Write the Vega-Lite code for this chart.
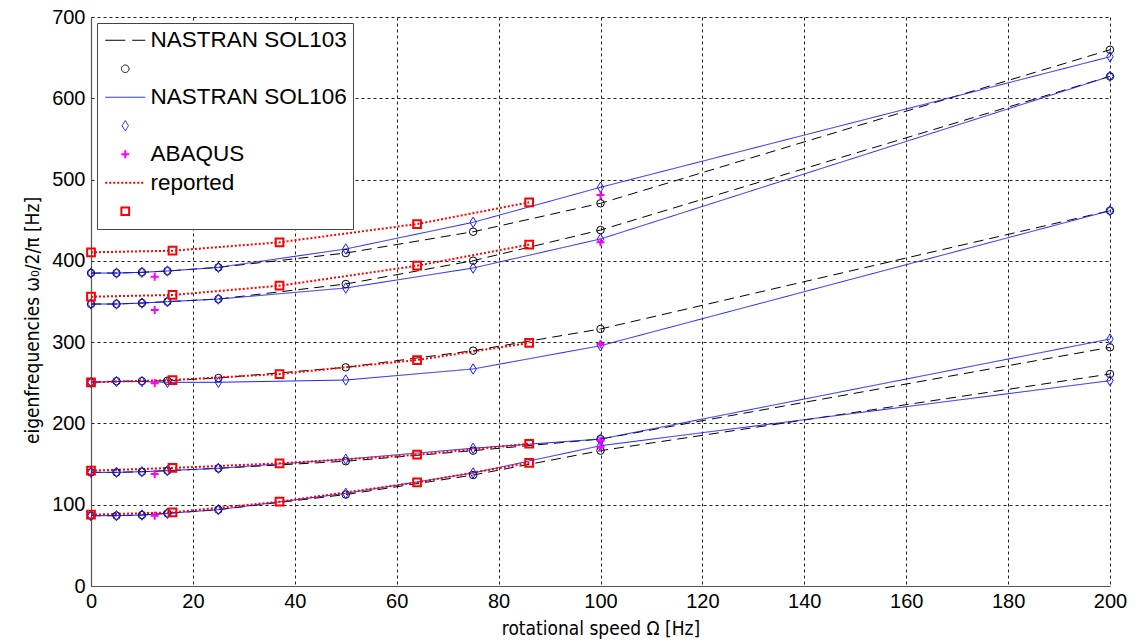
{
  "$schema": "https://vega.github.io/schema/vega-lite/v6.json",
  "width": 1019,
  "height": 569,
  "autosize": {"type": "none"},
  "padding": {"left": 91, "top": 17, "right": 28, "bottom": 55},
  "background": "white",
  "config": {
    "view": {"stroke": null},
    "font": "Liberation Sans",
    "legend": {"strokeColor": "#444", "fillColor": "white", "padding": 6, "cornerRadius": 0}
  },
  "datasets": {
    "freqs": [
      {"src":"NASTRAN SOL103","mk":"SOL103 markers","mode":1,"speed":0,"freq":86.5},
      {"src":"NASTRAN SOL103","mk":"SOL103 markers","mode":1,"speed":5,"freq":86.5},
      {"src":"NASTRAN SOL103","mk":"SOL103 markers","mode":1,"speed":10,"freq":87.3},
      {"src":"NASTRAN SOL103","mk":"SOL103 markers","mode":1,"speed":15,"freq":89.4},
      {"src":"NASTRAN SOL103","mk":"SOL103 markers","mode":1,"speed":25,"freq":93.9},
      {"src":"NASTRAN SOL103","mk":"SOL103 markers","mode":1,"speed":50,"freq":112.5},
      {"src":"NASTRAN SOL103","mk":"SOL103 markers","mode":1,"speed":75,"freq":136.5},
      {"src":"NASTRAN SOL103","mk":"SOL103 markers","mode":1,"speed":100,"freq":166.5},
      {"src":"NASTRAN SOL103","mk":"SOL103 markers","mode":1,"speed":200,"freq":260.8},
      {"src":"NASTRAN SOL103","mk":"SOL103 markers","mode":2,"speed":0,"freq":139.8},
      {"src":"NASTRAN SOL103","mk":"SOL103 markers","mode":2,"speed":5,"freq":139.8},
      {"src":"NASTRAN SOL103","mk":"SOL103 markers","mode":2,"speed":10,"freq":140.6},
      {"src":"NASTRAN SOL103","mk":"SOL103 markers","mode":2,"speed":15,"freq":141.9},
      {"src":"NASTRAN SOL103","mk":"SOL103 markers","mode":2,"speed":25,"freq":144.8},
      {"src":"NASTRAN SOL103","mk":"SOL103 markers","mode":2,"speed":50,"freq":153.5},
      {"src":"NASTRAN SOL103","mk":"SOL103 markers","mode":2,"speed":75,"freq":166.5},
      {"src":"NASTRAN SOL103","mk":"SOL103 markers","mode":2,"speed":100,"freq":180.8},
      {"src":"NASTRAN SOL103","mk":"SOL103 markers","mode":2,"speed":200,"freq":293.6},
      {"src":"NASTRAN SOL103","mk":"SOL103 markers","mode":3,"speed":0,"freq":250.6},
      {"src":"NASTRAN SOL103","mk":"SOL103 markers","mode":3,"speed":5,"freq":252},
      {"src":"NASTRAN SOL103","mk":"SOL103 markers","mode":3,"speed":10,"freq":252},
      {"src":"NASTRAN SOL103","mk":"SOL103 markers","mode":3,"speed":15,"freq":252.5},
      {"src":"NASTRAN SOL103","mk":"SOL103 markers","mode":3,"speed":25,"freq":255.9},
      {"src":"NASTRAN SOL103","mk":"SOL103 markers","mode":3,"speed":50,"freq":269},
      {"src":"NASTRAN SOL103","mk":"SOL103 markers","mode":3,"speed":75,"freq":289.5},
      {"src":"NASTRAN SOL103","mk":"SOL103 markers","mode":3,"speed":100,"freq":316.2},
      {"src":"NASTRAN SOL103","mk":"SOL103 markers","mode":3,"speed":200,"freq":461.7},
      {"src":"NASTRAN SOL103","mk":"SOL103 markers","mode":4,"speed":0,"freq":346.9},
      {"src":"NASTRAN SOL103","mk":"SOL103 markers","mode":4,"speed":5,"freq":346.9},
      {"src":"NASTRAN SOL103","mk":"SOL103 markers","mode":4,"speed":10,"freq":348.1},
      {"src":"NASTRAN SOL103","mk":"SOL103 markers","mode":4,"speed":15,"freq":349.8},
      {"src":"NASTRAN SOL103","mk":"SOL103 markers","mode":4,"speed":25,"freq":353},
      {"src":"NASTRAN SOL103","mk":"SOL103 markers","mode":4,"speed":50,"freq":371.5},
      {"src":"NASTRAN SOL103","mk":"SOL103 markers","mode":4,"speed":75,"freq":400.2},
      {"src":"NASTRAN SOL103","mk":"SOL103 markers","mode":4,"speed":100,"freq":437.9},
      {"src":"NASTRAN SOL103","mk":"SOL103 markers","mode":4,"speed":200,"freq":627},
      {"src":"NASTRAN SOL103","mk":"SOL103 markers","mode":5,"speed":0,"freq":385},
      {"src":"NASTRAN SOL103","mk":"SOL103 markers","mode":5,"speed":5,"freq":385},
      {"src":"NASTRAN SOL103","mk":"SOL103 markers","mode":5,"speed":10,"freq":385.9},
      {"src":"NASTRAN SOL103","mk":"SOL103 markers","mode":5,"speed":15,"freq":387.5},
      {"src":"NASTRAN SOL103","mk":"SOL103 markers","mode":5,"speed":25,"freq":392},
      {"src":"NASTRAN SOL103","mk":"SOL103 markers","mode":5,"speed":50,"freq":409.6},
      {"src":"NASTRAN SOL103","mk":"SOL103 markers","mode":5,"speed":75,"freq":435.8},
      {"src":"NASTRAN SOL103","mk":"SOL103 markers","mode":5,"speed":100,"freq":470.8},
      {"src":"NASTRAN SOL103","mk":"SOL103 markers","mode":5,"speed":200,"freq":659.7},
      {"src":"NASTRAN SOL106","mk":"SOL106 markers","mode":1,"speed":0,"freq":86.5},
      {"src":"NASTRAN SOL106","mk":"SOL106 markers","mode":1,"speed":5,"freq":86.5},
      {"src":"NASTRAN SOL106","mk":"SOL106 markers","mode":1,"speed":10,"freq":87.3},
      {"src":"NASTRAN SOL106","mk":"SOL106 markers","mode":1,"speed":15,"freq":89.4},
      {"src":"NASTRAN SOL106","mk":"SOL106 markers","mode":1,"speed":25,"freq":93.9},
      {"src":"NASTRAN SOL106","mk":"SOL106 markers","mode":1,"speed":50,"freq":114},
      {"src":"NASTRAN SOL106","mk":"SOL106 markers","mode":1,"speed":75,"freq":139},
      {"src":"NASTRAN SOL106","mk":"SOL106 markers","mode":1,"speed":100,"freq":172.6},
      {"src":"NASTRAN SOL106","mk":"SOL106 markers","mode":1,"speed":200,"freq":252.6},
      {"src":"NASTRAN SOL106","mk":"SOL106 markers","mode":2,"speed":0,"freq":139.8},
      {"src":"NASTRAN SOL106","mk":"SOL106 markers","mode":2,"speed":5,"freq":139.8},
      {"src":"NASTRAN SOL106","mk":"SOL106 markers","mode":2,"speed":10,"freq":140.6},
      {"src":"NASTRAN SOL106","mk":"SOL106 markers","mode":2,"speed":15,"freq":141.9},
      {"src":"NASTRAN SOL106","mk":"SOL106 markers","mode":2,"speed":25,"freq":144.8},
      {"src":"NASTRAN SOL106","mk":"SOL106 markers","mode":2,"speed":50,"freq":156},
      {"src":"NASTRAN SOL106","mk":"SOL106 markers","mode":2,"speed":75,"freq":169.5},
      {"src":"NASTRAN SOL106","mk":"SOL106 markers","mode":2,"speed":100,"freq":180.8},
      {"src":"NASTRAN SOL106","mk":"SOL106 markers","mode":2,"speed":200,"freq":303.8},
      {"src":"NASTRAN SOL106","mk":"SOL106 markers","mode":3,"speed":0,"freq":250.6},
      {"src":"NASTRAN SOL106","mk":"SOL106 markers","mode":3,"speed":5,"freq":251.5},
      {"src":"NASTRAN SOL106","mk":"SOL106 markers","mode":3,"speed":10,"freq":251.5},
      {"src":"NASTRAN SOL106","mk":"SOL106 markers","mode":3,"speed":15,"freq":250.6},
      {"src":"NASTRAN SOL106","mk":"SOL106 markers","mode":3,"speed":25,"freq":250.6},
      {"src":"NASTRAN SOL106","mk":"SOL106 markers","mode":3,"speed":50,"freq":253.4},
      {"src":"NASTRAN SOL106","mk":"SOL106 markers","mode":3,"speed":75,"freq":267},
      {"src":"NASTRAN SOL106","mk":"SOL106 markers","mode":3,"speed":100,"freq":295.6},
      {"src":"NASTRAN SOL106","mk":"SOL106 markers","mode":3,"speed":200,"freq":461.7},
      {"src":"NASTRAN SOL106","mk":"SOL106 markers","mode":4,"speed":0,"freq":346.9},
      {"src":"NASTRAN SOL106","mk":"SOL106 markers","mode":4,"speed":5,"freq":346.9},
      {"src":"NASTRAN SOL106","mk":"SOL106 markers","mode":4,"speed":10,"freq":348.1},
      {"src":"NASTRAN SOL106","mk":"SOL106 markers","mode":4,"speed":15,"freq":349.8},
      {"src":"NASTRAN SOL106","mk":"SOL106 markers","mode":4,"speed":25,"freq":353},
      {"src":"NASTRAN SOL106","mk":"SOL106 markers","mode":4,"speed":50,"freq":366.6},
      {"src":"NASTRAN SOL106","mk":"SOL106 markers","mode":4,"speed":75,"freq":391.2},
      {"src":"NASTRAN SOL106","mk":"SOL106 markers","mode":4,"speed":100,"freq":426.9},
      {"src":"NASTRAN SOL106","mk":"SOL106 markers","mode":4,"speed":200,"freq":627},
      {"src":"NASTRAN SOL106","mk":"SOL106 markers","mode":5,"speed":0,"freq":385},
      {"src":"NASTRAN SOL106","mk":"SOL106 markers","mode":5,"speed":5,"freq":385},
      {"src":"NASTRAN SOL106","mk":"SOL106 markers","mode":5,"speed":10,"freq":385.9},
      {"src":"NASTRAN SOL106","mk":"SOL106 markers","mode":5,"speed":15,"freq":387.5},
      {"src":"NASTRAN SOL106","mk":"SOL106 markers","mode":5,"speed":25,"freq":392},
      {"src":"NASTRAN SOL106","mk":"SOL106 markers","mode":5,"speed":50,"freq":414.6},
      {"src":"NASTRAN SOL106","mk":"SOL106 markers","mode":5,"speed":75,"freq":447.4},
      {"src":"NASTRAN SOL106","mk":"SOL106 markers","mode":5,"speed":100,"freq":490.5},
      {"src":"NASTRAN SOL106","mk":"SOL106 markers","mode":5,"speed":200,"freq":651.1},
      {"src":"ABAQUS","mk":"ABAQUS","mode":1,"speed":12.5,"freq":86.5},
      {"src":"ABAQUS","mk":"ABAQUS","mode":2,"speed":12.5,"freq":137.8},
      {"src":"ABAQUS","mk":"ABAQUS","mode":3,"speed":12.5,"freq":249.3},
      {"src":"ABAQUS","mk":"ABAQUS","mode":4,"speed":12.5,"freq":339.5},
      {"src":"ABAQUS","mk":"ABAQUS","mode":5,"speed":12.5,"freq":380.5},
      {"src":"ABAQUS","mk":"ABAQUS","mode":1,"speed":100,"freq":170.6},
      {"src":"ABAQUS","mk":"ABAQUS","mode":2,"speed":100,"freq":178.8},
      {"src":"ABAQUS","mk":"ABAQUS","mode":3,"speed":100,"freq":297.7},
      {"src":"ABAQUS","mk":"ABAQUS","mode":4,"speed":100,"freq":422.8},
      {"src":"ABAQUS","mk":"ABAQUS","mode":5,"speed":100,"freq":481},
      {"src":"reported","mk":"reported markers","mode":1,"speed":0,"freq":87.7},
      {"src":"reported","mk":"reported markers","mode":1,"speed":16,"freq":90.6},
      {"src":"reported","mk":"reported markers","mode":1,"speed":37,"freq":103.7},
      {"src":"reported","mk":"reported markers","mode":1,"speed":64,"freq":127.5},
      {"src":"reported","mk":"reported markers","mode":1,"speed":86,"freq":151.5},
      {"src":"reported","mk":"reported markers","mode":2,"speed":0,"freq":141.9},
      {"src":"reported","mk":"reported markers","mode":2,"speed":16,"freq":145.2},
      {"src":"reported","mk":"reported markers","mode":2,"speed":37,"freq":150.9},
      {"src":"reported","mk":"reported markers","mode":2,"speed":64,"freq":161.5},
      {"src":"reported","mk":"reported markers","mode":2,"speed":86,"freq":175},
      {"src":"reported","mk":"reported markers","mode":3,"speed":0,"freq":250.6},
      {"src":"reported","mk":"reported markers","mode":3,"speed":16,"freq":253.4},
      {"src":"reported","mk":"reported markers","mode":3,"speed":37,"freq":260.8},
      {"src":"reported","mk":"reported markers","mode":3,"speed":64,"freq":278},
      {"src":"reported","mk":"reported markers","mode":3,"speed":86,"freq":299},
      {"src":"reported","mk":"reported markers","mode":4,"speed":0,"freq":355.9},
      {"src":"reported","mk":"reported markers","mode":4,"speed":16,"freq":358},
      {"src":"reported","mk":"reported markers","mode":4,"speed":37,"freq":369.4},
      {"src":"reported","mk":"reported markers","mode":4,"speed":64,"freq":394},
      {"src":"reported","mk":"reported markers","mode":4,"speed":86,"freq":420},
      {"src":"reported","mk":"reported markers","mode":5,"speed":0,"freq":410.5},
      {"src":"reported","mk":"reported markers","mode":5,"speed":16,"freq":412.5},
      {"src":"reported","mk":"reported markers","mode":5,"speed":37,"freq":422.8},
      {"src":"reported","mk":"reported markers","mode":5,"speed":64,"freq":445.3},
      {"src":"reported","mk":"reported markers","mode":5,"speed":86,"freq":472}
    ]
  },
  "data": {"name": "freqs"},
  "encoding": {
    "x": {
      "field": "speed", "type": "quantitative",
      "scale": {"domain": [0, 200], "nice": false},
      "axis": {
        "title": "rotational speed \u03a9 [Hz]",
        "values": [0, 20, 40, 60, 80, 100, 120, 140, 160, 180, 200],
        "grid": true, "gridColor": "#222", "gridDash": [3, 3], "gridWidth": 1,
        "ticks": false, "domainColor": "#555", "domainWidth": 1.2,
        "labelFont": "Liberation Sans", "labelFontSize": 20, "labelColor": "#000", "labelPadding": 5,
        "labelFlush": false,
        "titleFont": "Liberation Sans Narrow, DejaVu Sans Condensed, Liberation Sans", "titleFontSize": 19,
        "titleFontWeight": "normal", "titleColor": "#000", "titleY": 42, "titleBaseline": "middle"
      }
    },
    "y": {
      "field": "freq", "type": "quantitative",
      "scale": {"domain": [0, 700], "nice": false},
      "axis": {
        "title": "eigenfrequencies   \u03c9\u2080/2/\u03c0 [Hz]",
        "values": [0, 100, 200, 300, 400, 500, 600, 700],
        "grid": true, "gridColor": "#222", "gridDash": [3, 3], "gridWidth": 1,
        "ticks": false, "domainColor": "#555", "domainWidth": 1.2,
        "labelFont": "Liberation Sans", "labelFontSize": 20, "labelColor": "#000", "labelPadding": 6,
        "labelFlush": false,
        "titleFont": "Liberation Sans Narrow, DejaVu Sans Condensed, Liberation Sans", "titleFontSize": 19,
        "titleFontWeight": "normal", "titleColor": "#000",
        "titleX": -59, "titleY": 303, "titleBaseline": "middle", "titleAngle": 270
      }
    }
  },
  "layer": [
    {
      "transform": [{"filter": "datum.src !== 'ABAQUS'"}],
      "mark": {"type": "line", "interpolate": "linear"},
      "encoding": {
        "color": {
          "field": "src", "type": "nominal",
          "scale": {
            "domain": ["NASTRAN SOL103", "SOL103 markers", "NASTRAN SOL106", "SOL106 markers", "ABAQUS", "reported", "reported markers"],
            "range": ["#000000", "#000000", "#1a1aff", "#1a1aff", "#ff00ff", "#ff0000", "#ff0000"]
          },
          "legend": {
            "title": null, "orient": "top-left", "offset": 6, "direction": "vertical",
            "labelFont": "Liberation Sans", "labelFontSize": 22.5, "labelColor": "#000", "labelLimit": 400,
            "labelExpr": "test(/markers/, datum.label) ? '' : datum.label",
            "symbolOffset": 11, "labelOffset": 14, "rowPadding": 5.5, "symbolSize": 100,
            "encode": {
              "symbols": {
                "update": {
                  "shape": {"signal": "datum.value === 'SOL103 markers' ? 'circle' : datum.value === 'SOL106 markers' ? 'M0,-1.3L0.8,0L0,1.3L-0.8,0Z' : datum.value === 'ABAQUS' ? 'M-1,0H1M0,-1V1' : datum.value === 'reported markers' ? 'square' : 'M-4,0H4'"},
                  "size": {"signal": "datum.value === 'SOL103 markers' ? 56 : datum.value === 'SOL106 markers' ? 64 : datum.value === 'ABAQUS' ? 64 : datum.value === 'reported markers' ? 60 : 100"},
                  "strokeDash": {"signal": "datum.value === 'NASTRAN SOL103' ? [20, 7] : datum.value === 'reported' ? [2, 2] : [1, 0]"},
                  "strokeWidth": {"signal": "datum.value === 'reported' || datum.value === 'reported markers' || datum.value === 'ABAQUS' ? 2 : 1"},
                  "fill": {"value": "transparent"},
                  "stroke": {"scale": "color", "field": "value"},
                  "opacity": {"value": 1}
                }
              }
            }
          }
        },
        "detail": {"field": "mode", "type": "nominal"},
        "strokeDash": {
          "field": "src", "type": "nominal",
          "scale": {"domain": ["NASTRAN SOL103", "NASTRAN SOL106", "reported"], "range": [[10, 6], [1, 0], [2, 2]]},
          "legend": null
        },
        "strokeWidth": {"condition": {"test": "datum.src === 'reported'", "value": 2}, "value": 1}
      }
    },
    {
      "mark": {"type": "point", "filled": false, "opacity": 1},
      "encoding": {
        "color": {"field": "mk", "type": "nominal"},
        "shape": {
          "field": "mk", "type": "nominal",
          "scale": {
            "domain": ["SOL103 markers", "SOL106 markers", "ABAQUS", "reported markers"],
            "range": ["circle", "M0,-1.3L0.8,0L0,1.3L-0.8,0Z", "M-1,0H1M0,-1V1", "square"]
          },
          "legend": null
        },
        "size": {
          "condition": [
            {"test": "datum.mk === 'reported markers'", "value": 60},
            {"test": "datum.mk === 'SOL103 markers'", "value": 56}
          ],
          "value": 64
        },
        "strokeWidth": {"condition": {"test": "datum.mk === 'reported markers' || datum.mk === 'ABAQUS'", "value": 2}, "value": 1}
      }
    }
  ]
}
